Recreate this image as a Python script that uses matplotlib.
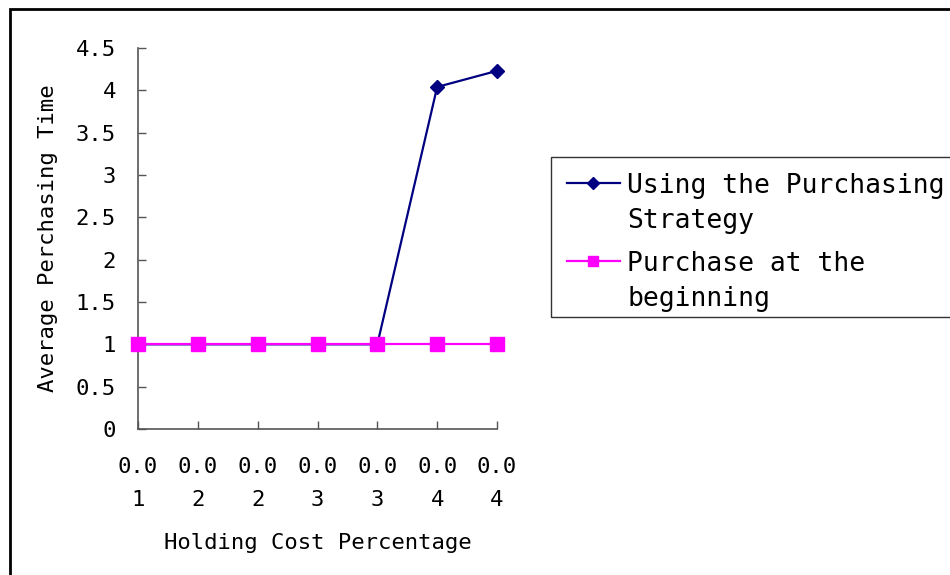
import matplotlib.pyplot as plt
from matplotlib.lines import Line2D
from matplotlib.patches import Rectangle

plt.rcParams['font.family'] = ['DejaVu Sans Mono']

# holding cost categories (labels wrapped as in the worksheet column)
cost_labels = ["0.0\n1", "0.0\n2", "0.0\n2", "0.0\n3", "0.0\n3", "0.0\n4", "0.0\n4"]
strategy = [1, 1, 1, 1, 1, 4.04, 4.23]
at_beginning = [1, 1, 1, 1, 1, 1, 1]
y_ticks = [0, 0.5, 1, 1.5, 2, 2.5, 3, 3.5, 4, 4.5]
y_tick_labels = ["0", "0.5", "1", "1.5", "2", "2.5", "3", "3.5", "4", "4.5"]

W, H = 950, 575
fig = plt.figure(figsize=(W / 100, H / 100), dpi=100)


def px(x, y):
    return x / W, 1 - y / H


ax = fig.add_axes([138 / W, 1 - 429 / H, 359 / W, 381 / H])
x = list(range(len(cost_labels)))
ax.plot(x, strategy, color="#000080", lw=1.6, marker="D", ms=7.5, clip_on=False, zorder=3)
ax.plot(x, at_beginning, color="#FF00FF", lw=1.6, marker="s", ms=9.5, clip_on=False, zorder=4)

ax.set_xlim(0, 6)
ax.set_ylim(0, 4.5)
ax.set_xticks(x)
ax.set_xticklabels(cost_labels, linespacing=1.8)
ax.set_yticks(y_ticks)
ax.set_yticklabels(y_tick_labels)
ax.tick_params(axis="x", direction="in", length=6, width=1, color="#555555", pad=20, labelsize=16)
ax.tick_params(axis="y", direction="in", length=6, width=1, color="#555555", pad=16, labelsize=16)
for s in ("top", "right"):
    ax.spines[s].set_visible(False)
for s in ("left", "bottom"):
    ax.spines[s].set_color("#555555")
    ax.spines[s].set_linewidth(1.2)

ax.set_xlabel("Holding Cost Percentage", fontsize=16, labelpad=17)
ax.set_ylabel("Average Perchasing Time", fontsize=16, labelpad=13)

# legend box drawn by hand so the swatch sits on the first text line
fig.add_artist(Rectangle(px(551, 317), 420 / W, 160 / H, transform=fig.transFigure,
                         fill=False, edgecolor="#333333", lw=1, clip_on=False))
entries = [("#000080", "D", 7.5, ["Using the Purchasing", "Strategy"], 183),
           ("#FF00FF", "s", 9, ["Purchase at the", "beginning"], 261)]
for color, mk, size, lines, ly in entries:
    x0, y0 = px(567, ly)
    x1, _ = px(620, ly)
    fig.add_artist(Line2D([x0, x1], [y0, y0], transform=fig.transFigure, color=color, lw=1.6))
    xm, _ = px(593, ly)
    fig.add_artist(Line2D([xm], [y0], transform=fig.transFigure, color=color, marker=mk, ms=size * 0.85))
    for i, t in enumerate(lines):
        tx, ty = px(627, ly + i * 35)
        fig.text(tx, ty, t, fontsize=19, va="center_baseline", ha="left")

# outer chart frame
fig.add_artist(Rectangle(px(10, 600), 1.2, (600 - 9) / H, transform=fig.transFigure,
                         fill=False, edgecolor="black", lw=2, clip_on=True))

fig.savefig("out.png", dpi=100)
